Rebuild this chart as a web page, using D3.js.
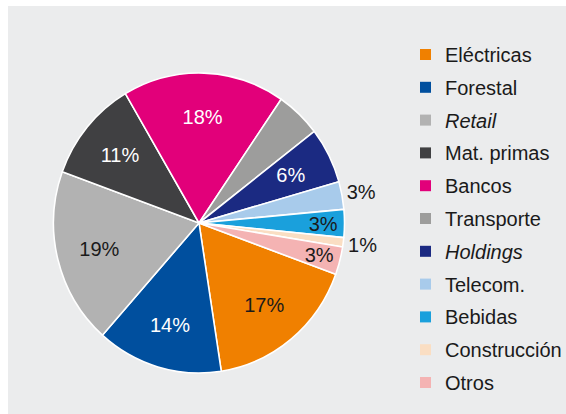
<!DOCTYPE html>
<html>
<head>
<meta charset="utf-8">
<script src="https://cdn.jsdelivr.net/npm/d3@7"></script>
<style>
  body { margin: 0; background: #fff; }
  svg { display: block; font-family: "Liberation Sans", Arial, sans-serif; }
</style>
</head>
<body>
<div id="chart"></div>
<script>
// sectors, clockwise from the orange one
var sectors = ["Eléctricas", "Forestal", "Retail", "Mat. primas", "Bancos", "Transporte",
               "Holdings", "Telecom.", "Bebidas", "Construcción", "Otros"];
var shares = [17, 14, 19, 11, 18, 5, 6, 3, 3, 1, 3];
var sectorColors = ["#f08000", "#004f9e", "#b2b2b2", "#404042", "#e2007a", "#9d9d9c",
                    "#1b2a82", "#a8cbeb", "#1aa0dc", "#fadec3", "#f4b3b3"];
var italicSectors = ["Retail", "Holdings"];
var labelled = [true, true, true, true, true, false, true, true, true, true, true];

var width = 566, height = 414;
var cx = 199, cy = 223, r = 150;

var svg = d3.select("#chart").append("svg")
  .attr("width", width)
  .attr("height", height);

// grey panel
svg.append("rect")
  .attr("x", 8).attr("y", 6)
  .attr("width", width - 8).attr("height", height - 6)
  .attr("fill", "#ebeced");

var start = 110 * Math.PI / 180;
var pie = d3.pie().sort(null).startAngle(start).endAngle(start + 2 * Math.PI);
var arcs = pie(shares);

var arc = d3.arc().innerRadius(0).outerRadius(r);

// the pie is a bit narrower than tall in the picture
var g = svg.append("g")
  .attr("transform", "translate(" + cx + "," + cy + ") scale(0.97,1)");

g.selectAll("path.slice")
  .data(arcs)
  .enter().append("path")
  .attr("class", "slice")
  .attr("d", arc)
  .attr("fill", function(d, i) { return sectorColors[i]; })
  .attr("stroke", "#fff")
  .attr("stroke-width", 1.6)
  .attr("stroke-linejoin", "round");

// label radius depends on slice size; a couple of thin ones go outside
var outside = ["Telecom.", "Construcción"];
var darkSlices = ["Forestal", "Mat. primas", "Bancos", "Holdings"];

function labelRadius(d, i) {
  if (outside.indexOf(sectors[i]) >= 0) return 170;
  if (d.data < 5) return 128;
  return 106;
}

var lg = svg.append("g").attr("transform", "translate(" + cx + "," + cy + ")");
lg.selectAll("text")
  .data(arcs.filter(function(d, i) { return labelled[i]; }))
  .enter().append("text")
  .each(function(d) {
    var i = arcs.indexOf(d);
    var a = (d.startAngle + d.endAngle) / 2;
    var rr = labelRadius(d, i);
    d3.select(this)
      .attr("x", Math.sin(a) * rr * 0.97)
      .attr("y", -Math.cos(a) * rr)
      .attr("fill", darkSlices.indexOf(sectors[i]) >= 0 ? "#fff" : "#1a1a1a");
  })
  .attr("text-anchor", "middle")
  .attr("dy", "0.36em")
  .attr("font-size", 20)
  .text(function(d) { return d.data + "%"; });

// legend
var legend = svg.append("g").attr("transform", "translate(420,55)");
var rowH = 32.8;

var rows = legend.selectAll("g")
  .data(sectors)
  .enter().append("g")
  .attr("transform", function(d, i) { return "translate(0," + (i * rowH) + ")"; });

rows.append("rect")
  .attr("x", 0).attr("y", -6)
  .attr("width", 11).attr("height", 11)
  .attr("fill", function(d, i) { return sectorColors[i]; });

rows.append("text")
  .attr("x", 25)
  .attr("dy", "0.35em")
  .attr("font-size", 20)
  .attr("fill", "#1a1a1a")
  .attr("font-style", function(d) { return italicSectors.indexOf(d) >= 0 ? "italic" : "normal"; })
  .text(function(d) { return d; });
</script>
</body>
</html>
